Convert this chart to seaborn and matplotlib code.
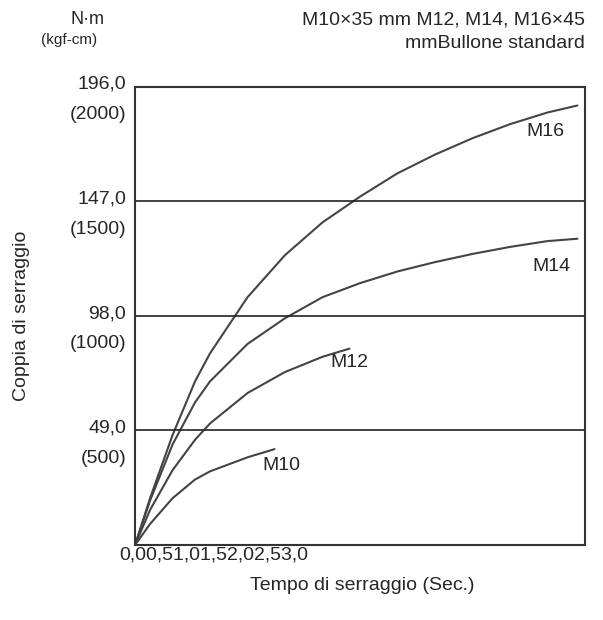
import matplotlib
matplotlib.use("Agg")
import matplotlib.pyplot as plt
import seaborn as sns
import pandas as pd

sns.set_style("white")
plt.rcParams['font.family'] = ['Liberation Sans', 'DejaVu Sans']

m16_x = [0, 0.1, 0.25, 0.4, 0.5, 0.75, 1.0, 1.25, 1.5, 1.75, 2.0, 2.25, 2.5, 2.75, 2.95]
m16_y = [0, 20, 47, 70, 82, 106, 124, 138, 149, 159, 167, 174, 180, 185, 188]
m14_x = [0, 0.1, 0.25, 0.4, 0.5, 0.75, 1.0, 1.25, 1.5, 1.75, 2.0, 2.25, 2.5, 2.75, 2.95]
m14_y = [0, 19, 43, 61, 70, 86, 97, 106, 112, 117, 121, 124.5, 127.5, 130, 131]
m12_x = [0, 0.1, 0.25, 0.4, 0.5, 0.75, 1.0, 1.25, 1.43]
m12_y = [0, 15, 32, 45, 52, 65, 74, 80.5, 84]
m10_x = [0, 0.1, 0.25, 0.4, 0.5, 0.75, 0.93]
m10_y = [0, 9, 20, 28, 31.5, 37.5, 41]
names = ["M16", "M14", "M12", "M10"]
label_pos = [(2.61, 177), (2.65, 119), (1.3, 78), (0.85, 34)]
yticks = [49, 98, 147, 196]
ytick_top = ["49,0", "98,0", "147,0", "196,0"]
ytick_bottom = ["(500)", "(1000)", "(1500)", "(2000)"]
xtick_text = "0,00,51,01,52,02,53,0"

rows = []
for n, xs, ys in zip(names, [m16_x, m14_x, m12_x, m10_x], [m16_y, m14_y, m12_y, m10_y]):
    rows += [{"t": a, "v": b, "s": n} for a, b in zip(xs, ys)]
df = pd.DataFrame(rows)

fig = plt.figure(figsize=(6.03, 6.2), dpi=100)
ax = fig.add_axes([0.224, 0.121, 0.746, 0.739])
sns.lineplot(data=df, x="t", y="v", hue="s", palette=["#444444"] * 4,
             legend=False, ax=ax, lw=1.5, estimator=None, sort=False)
for n, (lx, ly) in zip(names, label_pos):
    ax.text(lx, ly, n, fontsize=14, ha="left", va="center")
for y in yticks[:3]:
    ax.axhline(y, color="#222222", lw=1.2)
ax.set_xlim(0, 3.0)
ax.set_ylim(0, 196)
ax.set_xticks([0, 0.5, 1.0, 1.5, 2.0, 2.5])
ax.set_xticklabels([])
ax.tick_params(axis="x", direction="in", length=4, color="#333333")
ax.set_yticks(yticks)
ax.set_yticklabels([])
ax.tick_params(axis="y", length=0)
for y, a, b in zip(yticks, ytick_top, ytick_bottom):
    ax.text(-0.06, y + 1, a, ha="right", va="center", fontsize=14)
    ax.text(-0.06, y - 12, b, ha="right", va="center", fontsize=14)
for s in ax.spines.values():
    s.set_color("#333333"); s.set_linewidth(1.5)
ax.set_xlabel("")
ax.set_ylabel("")
fig.text(0.197, 0.118, xtick_text, ha="left", va="top", fontsize=14)
fig.text(0.60, 0.055, "Tempo di serraggio (Sec.)", ha="center", va="center", fontsize=14)
fig.text(0.035, 0.49, "Coppia di serraggio", rotation=90, ha="center", va="center", fontsize=14)
fig.text(0.145, 0.968, "N·m", ha="center", va="center", fontsize=13)
fig.text(0.115, 0.935, "(kgf-cm)", ha="center", va="center", fontsize=11)
fig.text(0.97, 0.968, "M10×35 mm M12, M14, M16×45", ha="right", va="center", fontsize=14)
fig.text(0.97, 0.93, "mmBullone standard", ha="right", va="center", fontsize=14)
fig.savefig("out.png", dpi=100)
